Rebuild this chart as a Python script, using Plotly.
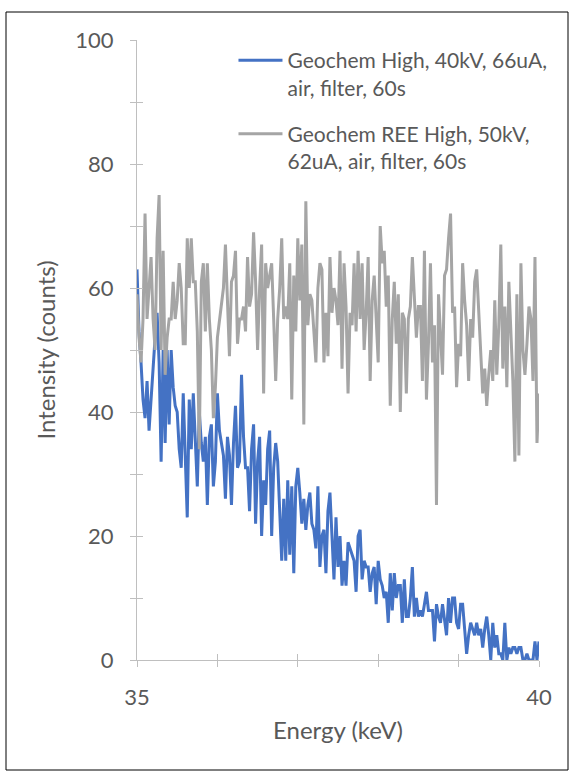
import numpy as np
import plotly.graph_objects as go

# Energy channels (keV)
energy_start = 35.0
energy_step = 0.025
n_channels = 201
energy = np.round(energy_start + energy_step * np.arange(n_channels), 3)

series_names = [
    "Geochem High, 40kV, 66uA,<br>air, filter, 60s",
    "Geochem REE High, 50kV,<br>62uA, air, filter, 60s",
]

geochem_high = [
    63, 53, 48, 42, 39, 45, 37, 43, 47, 52, 56, 48, 32, 50, 35, 50, 38, 50, 44, 41,
    40, 34, 31, 43, 34, 23, 42, 34, 43, 36, 28, 40, 35, 32, 36, 25, 36, 38, 28, 32,
    43, 37, 35, 33, 26, 36, 33, 25, 35, 41, 31, 32, 46, 36, 31, 31, 24, 34, 38, 22,
    32, 36, 20, 29, 25, 34, 37, 20, 31, 35, 32, 24, 16, 26, 16, 29, 17, 28, 14, 28,
    31, 27, 22, 26, 21, 25, 27, 22, 21, 18, 28, 15, 20, 21, 14, 24, 27, 20, 13, 23,
    15, 20, 12, 16, 12, 19, 18, 17, 16, 11, 20, 21, 13, 16, 15, 15, 11, 14, 15, 9,
    16, 13, 12, 10, 11, 6, 14, 8, 14, 10, 12, 12, 6, 13, 7, 7, 10, 15, 7, 10,
    7, 8, 7, 9, 11, 8, 8, 8, 3, 9, 7, 6, 9, 6, 4, 10, 6, 10, 10, 6,
    5, 9, 9, 5, 1, 4, 6, 5, 4, 6, 4, 5, 2, 5, 7, 4, 0, 6, 2, 4,
    1, 1, 0, 6, 0, 2, 1, 2, 2, 1, 2, 2, 0, 0, 1, 0, 0, 0, 3, 0,
    3,
]

geochem_ree_high = [
    59, 52, 48, 55, 72, 55, 60, 65, 55, 50, 68, 75, 50, 66, 46, 52, 55, 55, 61, 55,
    58, 64, 60, 51, 51, 68, 60, 68, 61, 61, 53, 34, 61, 64, 53, 64, 55, 50, 39, 44,
    52, 55, 57, 60, 67, 56, 49, 61, 62, 66, 51, 55, 55, 57, 53, 65, 57, 59, 69, 61,
    50, 60, 67, 43, 64, 60, 62, 64, 55, 45, 55, 60, 68, 55, 57, 55, 64, 42, 62, 53,
    68, 58, 67, 38, 74, 54, 59, 58, 53, 48, 60, 64, 63, 48, 56, 49, 65, 56, 60, 58,
    54, 66, 47, 64, 57, 43, 56, 54, 64, 53, 66, 55, 64, 50, 56, 65, 45, 58, 62, 55,
    48, 70, 64, 66, 57, 62, 41, 55, 61, 51, 59, 40, 56, 55, 43, 55, 57, 65, 59, 52,
    57, 57, 45, 66, 42, 51, 64, 48, 54, 25, 59, 52, 46, 62, 63, 68, 72, 56, 57, 44,
    51, 49, 64, 58, 54, 45, 55, 52, 61, 63, 57, 50, 43, 47, 41, 46, 50, 45, 58, 46,
    54, 67, 47, 57, 44, 61, 54, 45, 32, 59, 33, 64, 50, 46, 51, 57, 55, 45, 65, 35,
    43,
]

y_ticks = [0, 20, 40, 60, 80, 100]
x_ticks = [35, 40]

colors = ["#4472C4", "#A5A5A5"]
text_color = "#595959"
axis_color = "#BFBFBF"
font_family = "Lato, 'Open Sans', sans-serif"

fig = go.Figure()
for k, (name, vals, col) in enumerate(zip(series_names, [geochem_high, geochem_ree_high], colors)):
    fig.add_trace(go.Scatter(
        x=energy, y=vals, mode="lines", name=name, legendgroup=f"g{k}",
        line=dict(color=col, width=3),
    ))

# Overlay trace for crossing tick marks (no data)
fig.add_trace(go.Scatter(x=[], y=[], xaxis="x2", yaxis="y2", showlegend=False))

W, H = 571, 772
L, R, T, B = 137, 32, 40, 112
pw, ph = W - L - R, H - T - B

def px_to_paper(px, py):
    return (px - L) / pw, (H - B - py) / ph

bx0, by0 = px_to_paper(6, 770)
bx1, by1 = px_to_paper(568, 12)

fs_tick, fs_title, fs_leg = 22, 24, 21

fig.update_layout(
    width=W, height=H,
    margin=dict(l=L, r=R, t=T, b=B, autoexpand=False),
    paper_bgcolor="white", plot_bgcolor="white",
    font=dict(family=font_family, color=text_color, size=fs_tick),
    showlegend=True,
    legend=dict(
        x=0.24, y=1.0, xanchor="left", yanchor="top",
        bgcolor="rgba(0,0,0,0)", font=dict(size=fs_leg, color=text_color),
        valign="top", tracegroupgap=16, traceorder="grouped",
        itemwidth=44,
    ),
    xaxis=dict(
        range=[35, 40], tickvals=x_ticks, ticks="outside", ticklen=6,
        tickcolor=axis_color, showline=True, linecolor=axis_color, linewidth=1,
        showgrid=False, zeroline=False, tickfont=dict(size=fs_tick, color=text_color),
        minor=dict(dtick=1, tick0=35, ticks="outside", ticklen=6, tickcolor=axis_color),
        title=dict(text="Energy (keV)", font=dict(size=fs_title, color=text_color), standoff=12),
        ticklabelstandoff=12,
    ),
    yaxis=dict(
        range=[0, 100], tickvals=y_ticks, ticks="outside", ticklen=6,
        tickcolor=axis_color, showline=True, linecolor=axis_color, linewidth=1,
        showgrid=False, zeroline=False, tickfont=dict(size=fs_tick, color=text_color),
        minor=dict(dtick=10, tick0=0, ticks="outside", ticklen=6, tickcolor=axis_color),
        title=dict(text="Intensity (counts)", font=dict(size=fs_title, color=text_color), standoff=12),
        ticklabelstandoff=12,
    ),
    xaxis2=dict(
        range=[35, 40], overlaying="x", anchor="y", side="bottom",
        dtick=1, tick0=35, ticks="inside", ticklen=6, tickcolor=axis_color,
        showticklabels=False, showline=False, showgrid=False, zeroline=False,
    ),
    yaxis2=dict(
        range=[0, 100], overlaying="y", anchor="x", side="left",
        dtick=10, tick0=0, ticks="inside", ticklen=6, tickcolor=axis_color,
        showticklabels=False, showline=False, showgrid=False, zeroline=False,
    ),
    shapes=[dict(
        type="rect", xref="paper", yref="paper",
        x0=bx0, y0=by0, x1=bx1, y1=by1,
        line=dict(color="black", width=1), fillcolor="rgba(0,0,0,0)", layer="below",
    )],
)

fig.write_html("out.html")
